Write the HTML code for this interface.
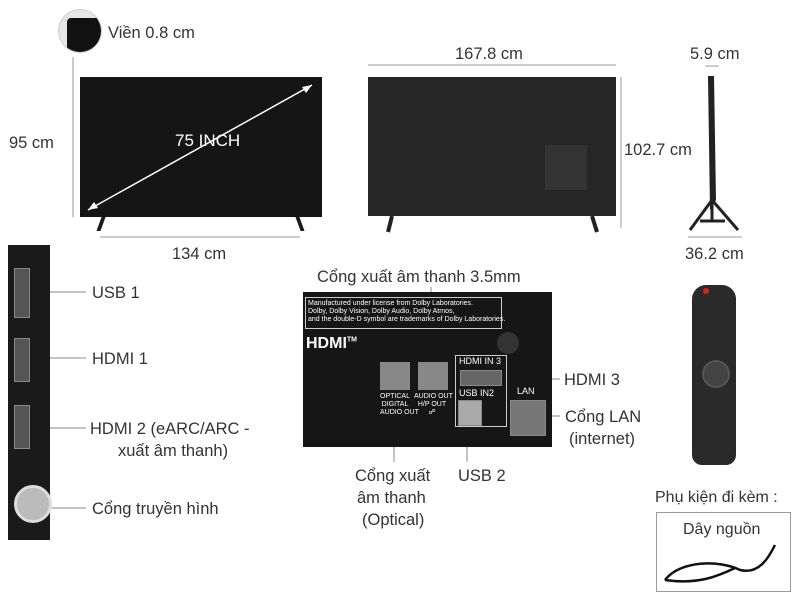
<!DOCTYPE html>
<html><head><meta charset="utf-8"><style>
body{margin:0;width:800px;height:600px;background:#fff;position:relative;overflow:hidden;font-family:"Liberation Sans",sans-serif;color:#333}
.t{position:absolute;font-size:16.5px;white-space:nowrap;line-height:20px}
.a{position:absolute;background:#999}
.b{position:absolute;background:#1c1c1c}
.p{position:absolute;background:#555;border:1px solid #888}
.s{position:absolute;font-size:7px;color:#fff;white-space:nowrap;line-height:8px;font-family:"Liberation Sans",sans-serif}
</style></head><body>
<!-- bezel icon -->
<div style="position:absolute;left:58px;top:9px;width:42px;height:42px;border-radius:50%;background:#e6e6e6;border:1px solid #ccc;overflow:hidden"><div style="position:absolute;left:8px;top:8px;width:40px;height:40px;background:#111;border-radius:4px"></div></div>
<div class="t" style="left:108px;top:23px">Viền 0.8 cm</div>
<!-- front TV -->
<div class="b" style="left:80px;top:77px;width:242px;height:140px;background:#151515"></div>
<div class="b" style="left:99px;top:217px;width:4px;height:14px;transform:skewX(-20deg)"></div>
<div class="b" style="left:298px;top:217px;width:4px;height:14px;transform:skewX(20deg)"></div>
<svg style="position:absolute;left:0;top:0" width="800" height="600">
<line x1="88" y1="210" x2="312" y2="85" stroke="#fff" stroke-width="1.5"/>
<polygon points="312,85 302,87 306,93" fill="#fff"/>
<polygon points="88,210 98,208 94,202" fill="#fff"/>
<line x1="73" y1="57" x2="73" y2="217" stroke="#999"/>
<line x1="100" y1="237" x2="300" y2="237" stroke="#999"/>
<line x1="368" y1="65" x2="616" y2="65" stroke="#999"/>
<line x1="621" y1="77" x2="621" y2="228" stroke="#999"/>
<line x1="705" y1="66" x2="719" y2="66" stroke="#999"/>
<line x1="688" y1="237" x2="742" y2="237" stroke="#999"/>
<!-- side view -->
<path d="M708 76 L714 76 L716 200 L710 210 Z" fill="#222"/>
<path d="M712 200 L690 230 M712 200 L738 230 M712 200 L712 222 M700 221 L725 221" stroke="#222" stroke-width="3" fill="none"/>
<!-- back legs -->
<path d="M392 216 L388 232 M592 216 L597 232" stroke="#222" stroke-width="4"/>
<!-- left connector lines -->
<g stroke="#888" stroke-width="1">
<line x1="30" y1="292" x2="86" y2="292"/><line x1="30" y1="358" x2="86" y2="358"/>
<line x1="30" y1="428" x2="86" y2="428"/><line x1="40" y1="508" x2="86" y2="508"/>
<line x1="431" y1="287" x2="431" y2="368"/><line x1="394" y1="380" x2="394" y2="462"/>
<line x1="467" y1="420" x2="467" y2="462"/><line x1="490" y1="379" x2="560" y2="379"/>
<line x1="540" y1="416" x2="560" y2="416"/>
</g>
<!-- power cord -->
<path d="M665 580 C680 560 720 560 740 570 C760 575 770 555 775 545 M665 580 C700 585 720 575 735 568" stroke="#111" stroke-width="2.5" fill="none"/>
</svg>
<div class="t" style="left:9px;top:133px">95 cm</div>
<div class="t" style="left:172px;top:244px">134 cm</div>
<div class="t" style="left:175px;top:131px;color:#fff;font-size:17px">75 INCH</div>
<!-- back TV -->
<div class="b" style="left:368px;top:77px;width:248px;height:139px;background:#262626"></div>
<div class="b" style="left:545px;top:145px;width:42px;height:45px;background:#333"></div>
<div class="t" style="left:455px;top:44px">167.8 cm</div>
<div class="t" style="left:624px;top:140px">102.7 cm</div>
<div class="t" style="left:690px;top:44px">5.9 cm</div>
<div class="t" style="left:685px;top:244px">36.2 cm</div>
<!-- left strip -->
<div class="b" style="left:8px;top:245px;width:42px;height:295px;background:#1a1a1a"></div>
<div class="p" style="left:14px;top:268px;width:14px;height:48px"></div>
<div class="p" style="left:14px;top:338px;width:14px;height:42px"></div>
<div class="p" style="left:14px;top:405px;width:14px;height:42px"></div>
<div style="position:absolute;left:14px;top:485px;width:38px;height:38px;border-radius:50%;background:#bbb;border:3px solid #ddd;box-sizing:border-box"></div>
<div class="t" style="left:92px;top:283px">USB 1</div>
<div class="t" style="left:92px;top:349px">HDMI 1</div>
<div class="t" style="left:90px;top:419px">HDMI 2 (eARC/ARC -</div>
<div class="t" style="left:118px;top:441px">xuất âm thanh)</div>
<div class="t" style="left:92px;top:499px">Cổng truyền hình</div>
<!-- middle panel -->
<div class="b" style="left:303px;top:292px;width:249px;height:155px;background:#161616"></div>
<div style="position:absolute;left:305px;top:297px;width:195px;height:30px;border:1px solid #ccc"></div>
<div class="s" style="left:308px;top:300px">Manufactured under license from Dolby Laboratories.<br>Dolby, Dolby Vision, Dolby Audio, Dolby Atmos,<br>and the double-D symbol are trademarks of Dolby Laboratories.</div>
<div style="position:absolute;left:306px;top:335px;color:#fff;font-weight:bold;font-size:16px">HDMI<sup style="font-size:7px">TM</sup></div>
<div style="position:absolute;left:497px;top:332px;width:22px;height:22px;border-radius:50%;background:#333"></div>
<div class="p" style="left:380px;top:362px;width:28px;height:26px;background:#888"></div>
<div class="p" style="left:418px;top:362px;width:28px;height:26px;background:#888"></div>
<div class="s" style="left:380px;top:393px;text-align:center;width:30px">OPTICAL<br>DIGITAL<br>AUDIO OUT</div>
<div class="s" style="left:414px;top:393px;text-align:center;width:36px">AUDIO OUT<br>H/P OUT<br>&#9741;</div>
<div style="position:absolute;left:455px;top:355px;width:50px;height:70px;border:1px solid #ccc"></div>
<div class="s" style="left:459px;top:357px;font-size:9px">HDMI IN 3</div>
<div class="p" style="left:460px;top:370px;width:40px;height:14px;background:#666"></div>
<div class="s" style="left:459px;top:389px;font-size:9px">USB IN2</div>
<div class="p" style="left:458px;top:400px;width:22px;height:24px;background:#aaa"></div>
<div class="s" style="left:517px;top:387px;font-size:9px">LAN</div>
<div class="p" style="left:510px;top:400px;width:34px;height:34px;background:#777"></div>
<div class="t" style="left:317px;top:267px">Cổng xuất âm thanh 3.5mm</div>
<div class="t" style="left:355px;top:466px;text-align:center">Cổng xuất</div>
<div class="t" style="left:357px;top:488px">âm thanh</div>
<div class="t" style="left:362px;top:510px">(Optical)</div>
<div class="t" style="left:458px;top:466px">USB 2</div>
<div class="t" style="left:564px;top:370px">HDMI 3</div>
<div class="t" style="left:565px;top:407px">Cổng LAN</div>
<div class="t" style="left:569px;top:429px">(internet)</div>
<!-- remote -->
<div class="b" style="left:692px;top:285px;width:44px;height:180px;border-radius:14px 14px 10px 10px;background:#2a2a2a"></div>
<div style="position:absolute;left:702px;top:360px;width:24px;height:24px;border-radius:50%;background:#444;border:2px solid #555"></div>
<div style="position:absolute;left:703px;top:288px;width:6px;height:6px;border-radius:50%;background:#d22"></div>
<div class="t" style="left:655px;top:488px;font-size:16px">Phụ kiện đi kèm :</div>
<div style="position:absolute;left:656px;top:512px;width:133px;height:78px;border:1px solid #999"></div>
<div class="t" style="left:683px;top:520px;font-size:16px">Dây nguồn</div>
</body></html>
